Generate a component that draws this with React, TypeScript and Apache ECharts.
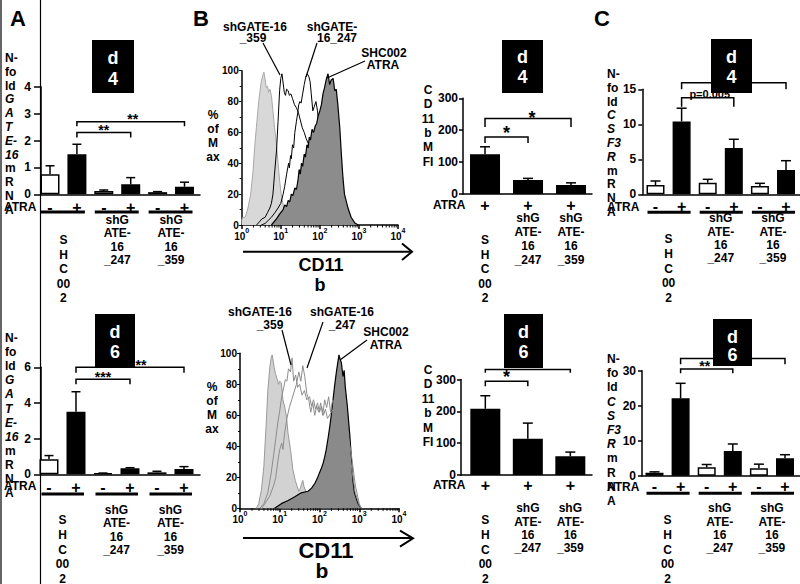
import React, { useEffect, useRef } from 'react';
import * as echarts from 'echarts';

const FF = '"Liberation Sans", Arial, Helvetica, sans-serif';
const font = (size: number, italic = false) => `${italic ? 'italic ' : ''}bold ${size}px ${FF}`;

// ---------------- categories / tick labels ----------------
const atraSix = ['-', '+', '-', '+', '-', '+'];
const atraThree = ['+', '+', '+'];
const groupSHC002 = ['S', 'H', 'C', '00', '2'];
const group247 = ['shG', 'ATE-', '16', '_247'];
const group359 = ['shG', 'ATE-', '16', '_359'];
const yNameGate16 = ['N-', 'fo', 'ld', 'G', 'A', 'T', 'E-', '16', 'm', 'R', 'N', 'A'];
const yNameGate16Italic = [3, 4, 5, 6, 7];
const yNameCsf3r = ['N-', 'fo', 'ld', 'C', 'S', 'F3', 'R', 'm', 'R', 'N', 'A'];
const yNameCsf3rItalic = [3, 4, 5, 6];
const yNameMfi = ['C', 'D', '11', 'b', 'M', 'FI'];
const yNameHist = ['%', 'of', 'M', 'ax'];
const histDecades = [0, 1, 2, 3];
const logMinorOffsets = [0.301, 0.477, 0.602, 0.699, 0.778, 0.845, 0.903, 0.954];

// ---------------- bar values (mean, mean + SD) ----------------
const gate16D4 = [0.75, 1.49, 0.12, 0.37, 0.08, 0.28];
const gate16D4Top = [1.06, 1.86, 0.16, 0.62, 0.1, 0.45];
const gate16D6 = [0.84, 3.51, 0.06, 0.34, 0.11, 0.3];
const gate16D6Top = [1.05, 4.63, 0.07, 0.37, 0.17, 0.43];
const mfiD4 = [125, 44, 28];
const mfiD4Top = [148, 49, 35];
const mfiD6 = [208, 114, 59];
const mfiD6Top = [249, 163, 72];
const csf3rD4 = [1.33, 10.4, 1.66, 6.6, 1.19, 3.47];
const csf3rD4Top = [1.9, 12.3, 2.14, 7.86, 1.57, 4.8];
const csf3rD6 = [0.86, 22.1, 2.4, 7.06, 2.1, 4.97];
const csf3rD6Top = [1.1, 26.4, 3.2, 9.06, 3.3, 6.0];

// ---------------- histograms: [log10(CD11b), % of max] ----------------
const histD4Control = [[0, 3], [0.03, 5], [0.09, 5], [0.16, 11], [0.23, 20], [0.29, 35], [0.33, 50], [0.375, 63], [0.435, 80], [0.5, 93], [0.54, 97], [0.57, 99], [0.6, 94], [0.63, 89], [0.66, 90], [0.69, 86], [0.72, 88], [0.76, 84], [0.8, 74], [0.84, 63], [0.88, 55], [0.91, 46], [0.97, 29], [1.01, 20], [1.06, 13], [1.1, 7], [1.19, 3], [1.27, 1], [1.35, 0]];
const histD4Sh359 = [[0.38, 0], [0.45, 2], [0.52, 4], [0.6, 5], [0.66, 8], [0.72, 11], [0.76, 14], [0.8, 20], [0.84, 33], [0.89, 48], [0.93, 67], [0.97, 87], [1.0, 95], [1.03, 98], [1.06, 92], [1.09, 86], [1.12, 84], [1.15, 88], [1.19, 87], [1.22, 84], [1.26, 85], [1.3, 82], [1.35, 78], [1.4, 76], [1.45, 73], [1.5, 68], [1.55, 63], [1.6, 60], [1.65, 56], [1.7, 53], [1.76, 50], [1.82, 48], [1.9, 43], [2.0, 35], [2.1, 25], [2.2, 16], [2.3, 9], [2.4, 4], [2.5, 1], [2.6, 0]];
const histD4Sh247 = [[0.5, 0], [0.6, 1], [0.68, 3], [0.76, 5], [0.85, 8], [0.93, 11], [1.0, 14], [1.06, 20], [1.1, 25], [1.15, 33], [1.2, 40], [1.22, 37], [1.25, 45], [1.27, 43], [1.3, 52], [1.33, 50], [1.36, 60], [1.4, 67], [1.43, 72], [1.46, 78], [1.49, 80], [1.52, 79], [1.56, 85], [1.6, 91], [1.64, 96], [1.68, 98], [1.72, 96], [1.75, 93], [1.78, 85], [1.82, 74], [1.86, 77], [1.9, 80], [1.94, 74], [1.97, 66], [2.0, 60], [2.1, 50], [2.25, 35], [2.4, 20], [2.55, 8], [2.7, 2], [2.8, 0]];
const histD4Shc002 = [[0.76, 0], [0.89, 4], [0.97, 7], [1.06, 10], [1.1, 13], [1.15, 12], [1.19, 16], [1.23, 15], [1.27, 20], [1.31, 19], [1.36, 24], [1.4, 23], [1.44, 29], [1.47, 36], [1.5, 33], [1.53, 40], [1.56, 38], [1.6, 46], [1.63, 44], [1.67, 52], [1.7, 50], [1.73, 57], [1.76, 55], [1.8, 62], [1.84, 60], [1.88, 64], [1.92, 66], [1.96, 71], [2.0, 74], [2.04, 78], [2.08, 85], [2.12, 89], [2.17, 95], [2.21, 98], [2.25, 91], [2.29, 94], [2.34, 95], [2.38, 87], [2.42, 88], [2.46, 78], [2.51, 63], [2.55, 46], [2.59, 31], [2.63, 20], [2.68, 15], [2.72, 11], [2.8, 5], [2.89, 1.5], [2.98, 0]];

const histD6Control = [[0.41, 0], [0.47, 3], [0.54, 12], [0.6, 27], [0.66, 55], [0.7, 76], [0.75, 91], [0.79, 98], [0.81, 99], [0.86, 91], [0.89, 87], [0.94, 83], [0.97, 80], [1.0, 82], [1.04, 81], [1.08, 70], [1.12, 66], [1.17, 59], [1.21, 48], [1.27, 38], [1.33, 25], [1.39, 18], [1.44, 14], [1.48, 11], [1.52, 13], [1.55, 16], [1.58, 18], [1.61, 14], [1.67, 10], [1.71, 5], [1.78, 2], [1.84, 0]];
const histD6Sh359 = [[0.5, 0], [0.6, 3], [0.7, 10], [0.78, 22], [0.84, 33], [0.9, 45], [0.95, 55], [1.0, 63], [1.05, 72], [1.1, 78], [1.14, 83], [1.18, 82], [1.22, 90], [1.27, 88], [1.31, 97], [1.35, 82], [1.4, 86], [1.45, 78], [1.5, 80], [1.56, 73], [1.62, 76], [1.68, 70], [1.75, 72], [1.8, 66], [1.85, 70], [1.9, 64], [1.95, 68], [2.0, 62], [2.05, 66], [2.1, 60], [2.15, 64], [2.2, 58], [2.3, 62], [2.4, 66], [2.5, 62], [2.6, 58], [2.7, 50], [2.8, 35], [2.9, 15], [3.0, 3], [3.05, 0]];
const histD6Sh247 = [[0.55, 0], [0.65, 4], [0.75, 8], [0.85, 15], [0.9, 20], [0.95, 30], [1.0, 38], [1.05, 42], [1.08, 38], [1.12, 48], [1.18, 58], [1.24, 65], [1.3, 70], [1.36, 75], [1.42, 80], [1.48, 88], [1.53, 82], [1.58, 92], [1.63, 85], [1.68, 74], [1.73, 70], [1.78, 62], [1.83, 68], [1.88, 60], [1.93, 66], [1.98, 62], [2.03, 68], [2.08, 60], [2.13, 70], [2.18, 65], [2.23, 72], [2.28, 62], [2.33, 70], [2.4, 66], [2.5, 60], [2.6, 55], [2.7, 45], [2.8, 28], [2.9, 10], [3.0, 2], [3.05, 0]];
const histD6Shc002 = [[0.87, 0], [1.04, 3], [1.21, 5], [1.38, 7.5], [1.54, 10], [1.71, 11], [1.8, 13], [1.88, 16], [1.94, 19], [2.0, 23], [2.05, 26], [2.09, 29], [2.13, 33], [2.17, 38], [2.22, 46], [2.26, 53], [2.3, 61], [2.34, 70], [2.38, 79], [2.42, 87], [2.46, 94], [2.49, 99], [2.52, 96], [2.55, 94], [2.59, 85], [2.62, 89], [2.65, 78], [2.7, 66], [2.76, 48], [2.8, 33], [2.84, 18], [2.88, 10], [2.97, 3], [3.05, 0]];

// ---------------- layout ----------------
const barPanels: any[] = [
  { // A, day 4
    left: 41, top: 86.7, width: 159, height: 107.6, xMin: -0.335, xMax: 5.576, yMax: 4, yInterval: 1,
    tickLen: 7, labelMargin: 10, barWidth: 19, capHalf: 4.5,
    means: gate16D4, tops: gate16D4Top, signs: atraSix, signDy: 12.7, ulDy: 17.7, ulL: 9, ulR: 8,
    groups: [
      { from: 0, to: 1, lines: groupSHC002, dy: 45.7, lh: 14.5, ul: true },
      { from: 2, to: 3, lines: group247, dy: 25.7, lh: 13.3, ul: true },
      { from: 4, to: 5, lines: group359, dy: 25.7, lh: 13.3, ul: true },
    ],
    brackets: [
      { from: 1, to: 3, y: 2.3, tick: 5, label: '**', dx: 0, dy: -2.5, fs: 14 },
      { from: 1, to: 5, y: 2.7, tick: 4.5, label: '**', dx: 2, dy: -2.5, fs: 14 },
    ],
  },
  { // A, day 6
    left: 41, top: 367.3, width: 159, height: 107, xMin: -0.296, xMax: 5.593, yMax: 6, yInterval: 2,
    tickLen: 7, labelMargin: 10, barWidth: 19, capHalf: 4.5,
    means: gate16D6, tops: gate16D6Top, signs: atraSix, signDy: 12.7, ulDy: 19.7, ulL: 7.5, ulR: 8,
    groups: [
      { from: 0, to: 1, lines: groupSHC002, dy: 45.7, lh: 14.75, ul: true },
      { from: 2, to: 3, lines: group247, dy: 35.7, lh: 13.3, ul: true },
      { from: 4, to: 5, lines: group359, dy: 35.7, lh: 13.3, ul: true },
    ],
    brackets: [
      { from: 1, to: 3, y: 5.33, tick: 5, label: '***', dx: 0, dy: -2.5, fs: 14 },
      { from: 1, to: 5, y: 6.0, tick: 5.4, label: '**', dx: 11, dy: -2.5, fs: 14 },
    ],
  },
  { // B, day 4 MFI
    left: 463, top: 98.3, width: 129, height: 95.7, xMin: -0.512, xMax: 2.488, yMax: 300, yInterval: 100,
    tickLen: 4, labelMargin: 5, barWidth: 30, capHalf: 5,
    means: mfiD4, tops: mfiD4Top, signs: atraThree, signDy: 11, ulDy: 0, ulL: 0, ulR: 0,
    groups: [
      { from: 0, to: 0, lines: groupSHC002, dy: 46, lh: 14.5, ul: false },
      { from: 1, to: 1, lines: group247, dy: 24, lh: 14, ul: false },
      { from: 2, to: 2, lines: group359, dy: 24, lh: 14, ul: false },
    ],
    brackets: [
      { from: 0, to: 1, y: 179, tick: 6, label: '*', dx: 0, dy: -4.3, fs: 18 },
      { from: 0, to: 2, y: 236.6, tick: 8.4, label: '*', dx: 4, dy: -1, fs: 18 },
    ],
  },
  { // B, day 6 MFI
    left: 461, top: 379.5, width: 131, height: 95.5, xMin: -0.572, xMax: 2.51, yMax: 300, yInterval: 100,
    tickLen: 4, labelMargin: 5, barWidth: 30, capHalf: 5,
    means: mfiD6, tops: mfiD6Top, signs: atraThree, signDy: 10, ulDy: 0, ulL: 0, ulR: 0,
    groups: [
      { from: 0, to: 0, lines: groupSHC002, dy: 45, lh: 14.8, ul: false },
      { from: 1, to: 1, lines: group247, dy: 33.3, lh: 13.3, ul: false },
      { from: 2, to: 2, lines: group359, dy: 33.3, lh: 13.3, ul: false },
    ],
    brackets: [
      { from: 0, to: 1, y: 294.6, tick: 5, label: '*', dx: 0, dy: -4.3, fs: 18 },
      { from: 0, to: 2, y: 331.5, tick: 3.3, label: '', dx: 0, dy: 0, fs: 18 },
    ],
  },
  { // C, day 4
    left: 642.3, top: 89.3, width: 157.7, height: 105, xMin: -0.506, xMax: 5.536, yMax: 15, yInterval: 5,
    tickLen: 4, labelMargin: 6, barWidth: 18, capHalf: 5,
    means: csf3rD4, tops: csf3rD4Top, signs: atraSix, signDy: 11.7, ulDy: 18, ulL: 8, ulR: 9,
    groups: [
      { from: 0, to: 1, lines: groupSHC002, dy: 45, lh: 14.7, ul: true },
      { from: 2, to: 3, lines: group247, dy: 24, lh: 13.3, ul: true },
      { from: 4, to: 5, lines: group359, dy: 24, lh: 13.3, ul: true },
    ],
    brackets: [
      { from: 1, to: 3, y: 13.8, tick: 9, label: 'p=0.005', dx: 2, dy: -4, fs: 11 },
      { from: 1, to: 5, y: 15.94, tick: 6.6, label: '', dx: 0, dy: 0, fs: 11 },
    ],
  },
  { // C, day 6
    left: 642, top: 370.7, width: 158, height: 105, xMin: -0.479, xMax: 5.575, yMax: 30, yInterval: 10,
    tickLen: 4, labelMargin: 6, barWidth: 18, capHalf: 5,
    means: csf3rD6, tops: csf3rD6Top, signs: atraSix, signDy: 11, ulDy: 17.6, ulL: 8, ulR: 9,
    groups: [
      { from: 0, to: 1, lines: groupSHC002, dy: 44.3, lh: 14.8, ul: true },
      { from: 2, to: 3, lines: group247, dy: 32.6, lh: 13.3, ul: true },
      { from: 4, to: 5, lines: group359, dy: 32.6, lh: 13.3, ul: true },
    ],
    brackets: [
      { from: 1, to: 3, y: 30.5, tick: 4.3, label: '**', dx: -2, dy: -2.5, fs: 14 },
      { from: 1, to: 5, y: 33.5, tick: 5.7, label: '', dx: 0, dy: 0, fs: 14 },
    ],
  },
];

const histPanels: any[] = [
  {
    left: 241.7, top: 70.7, width: 156.3, height: 154.3,
    curves: [
      { data: histD4Control, line: '#a8a8a8', fill: '#d8d8d8', width: 1, z: 2 },
      { data: histD4Sh359, line: '#000', fill: null, width: 1, z: 3 },
      { data: histD4Sh247, line: '#000', fill: null, width: 1, z: 3 },
      { data: histD4Shc002, line: '#000', fill: '#8c8c8c', width: 1.2, z: 4 },
    ],
  },
  {
    left: 240, top: 353.3, width: 159, height: 155,
    curves: [
      { data: histD6Control, line: '#999', fill: '#d2d2d2', width: 1, z: 2 },
      { data: histD6Shc002, line: '#000', fill: '#8a8a8a', width: 1.2, z: 3 },
      { data: histD6Sh359, line: '#8c8c8c', fill: null, width: 1, z: 4 },
      { data: histD6Sh247, line: '#8c8c8c', fill: null, width: 1, z: 4 },
    ],
  },
];

const txt = (text: string, x: number, y: number, size: number, align = 'center', italic = false, color = '#000') => ({
  type: 'text', x, y,
  style: { text, font: font(size, italic), fill: color, textAlign: align, textVerticalAlign: 'middle' },
});
const g = (el: any) => ({ ...el, z: 100, silent: true });
const stack = (lines: string[], x: number, y0: number, lh: number, align: string, italicIdx: number[] = [], size = 12) =>
  lines.map((t, j) => g(txt(t, x, y0 + j * lh, size, align, italicIdx.includes(j))));
const gline = (x1: number, y1: number, x2: number, y2: number, w = 1.2) =>
  g({ type: 'line', shape: { x1, y1, x2, y2 }, style: { stroke: '#000', lineWidth: w } });
const dayBox = (x: number, y: number, w: number, h: number, day: string, dY: number, nY: number) => [
  g({ type: 'rect', shape: { x, y, width: w, height: h }, style: { fill: '#000' } }),
  g(txt('d', x + w / 2, dY, 18, 'center', false, '#fff')),
  g(txt(day, x + w / 2, nY, 18, 'center', false, '#fff')),
];

const axisBlack = { color: '#000', width: 1.5 };

function buildOption() {
  const grid: any[] = [];
  const xAxis: any[] = [];
  const yAxis: any[] = [];
  const series: any[] = [];

  barPanels.forEach((c, i) => {
    grid.push({ left: c.left, top: c.top, width: c.width, height: c.height, containLabel: false, outerBoundsMode: 'none' });
    xAxis.push({
      type: 'value', gridIndex: i, min: c.xMin, max: c.xMax,
      axisLine: { show: true, onZero: false, lineStyle: axisBlack },
      axisTick: { show: false }, axisLabel: { show: false }, splitLine: { show: false },
    });
    yAxis.push({
      type: 'value', gridIndex: i, min: 0, max: c.yMax, interval: c.yInterval,
      axisLine: { show: true, onZero: false, lineStyle: axisBlack },
      axisTick: { show: true, length: c.tickLen, lineStyle: axisBlack },
      axisLabel: { fontFamily: FF, fontWeight: 'bold', fontSize: 12, color: '#000', margin: c.labelMargin, showMinLabel: true, showMaxLabel: true },
      splitLine: { show: false },
    });
    series.push({
      type: 'bar', xAxisIndex: i, yAxisIndex: i, barWidth: c.barWidth, silent: true, z: 2,
      data: c.means.map((v: number, k: number) => ({
        value: [k, v],
        itemStyle: { color: c.signs[k] === '-' ? '#ffffff' : '#000000', borderColor: '#000', borderWidth: 1.5 },
      })),
    });
    series.push({
      type: 'custom', xAxisIndex: i, yAxisIndex: i, silent: true, clip: false, z: 3,
      data: c.means.map((v: number, k: number) => [k, v, c.tops[k]]),
      renderItem: (_p: any, api: any) => {
        const b = api.coord([api.value(0), api.value(1)]);
        const t = api.coord([api.value(0), api.value(2)]);
        return {
          type: 'group', children: [
            { type: 'line', shape: { x1: b[0], y1: b[1], x2: t[0], y2: t[1] }, style: { stroke: '#000', lineWidth: 1.5 } },
            { type: 'line', shape: { x1: t[0] - c.capHalf, y1: t[1], x2: t[0] + c.capHalf, y2: t[1] }, style: { stroke: '#000', lineWidth: 1.5 } },
          ],
        };
      },
    });
    series.push({
      type: 'custom', xAxisIndex: i, yAxisIndex: i, silent: true, clip: false, z: 4,
      data: c.signs.map((_s: string, k: number) => [k, 0, k]),
      renderItem: (_p: any, api: any) => {
        const p = api.coord([api.value(0), 0]);
        return txt(c.signs[api.value(2)], p[0], p[1] + c.signDy, 16, 'center');
      },
    });
    series.push({
      type: 'custom', xAxisIndex: i, yAxisIndex: i, silent: true, clip: false, z: 4,
      data: c.groups.map((gr: any, k: number) => [gr.from, 0, gr.to, k]),
      renderItem: (_p: any, api: any) => {
        const gr = c.groups[api.value(3)];
        const p0 = api.coord([api.value(0), 0]);
        const p1 = api.coord([api.value(2), 0]);
        const cx = (p0[0] + p1[0]) / 2;
        const children: any[] = [];
        if (gr.ul) {
          children.push({ type: 'line', shape: { x1: p0[0] - c.ulL, y1: p0[1] + c.ulDy, x2: p1[0] + c.ulR, y2: p0[1] + c.ulDy }, style: { stroke: '#000', lineWidth: 3 } });
        }
        gr.lines.forEach((t: string, j: number) => children.push(txt(t, cx, p0[1] + gr.dy + j * gr.lh, 12, 'center')));
        return { type: 'group', children };
      },
    });
    series.push({
      type: 'custom', xAxisIndex: i, yAxisIndex: i, silent: true, clip: false, z: 5,
      data: c.brackets.map((br: any, k: number) => [br.from, br.y, br.to, k]),
      renderItem: (_p: any, api: any) => {
        const br = c.brackets[api.value(3)];
        const a = api.coord([api.value(0), api.value(1)]);
        const b = api.coord([api.value(2), api.value(1)]);
        const children: any[] = [
          { type: 'polyline', shape: { points: [[a[0], a[1] + br.tick], [a[0], a[1]], [b[0], b[1]], [b[0], b[1] + br.tick]] }, style: { stroke: '#000', lineWidth: 1.5, fill: 'none' } },
        ];
        if (br.label) children.push(txt(br.label, (a[0] + b[0]) / 2 + br.dx, a[1] + br.dy, br.fs, 'center'));
        return { type: 'group', children };
      },
    });
  });

  histPanels.forEach((h, j) => {
    const i = barPanels.length + j;
    grid.push({ left: h.left, top: h.top, width: h.width, height: h.height, containLabel: false, outerBoundsMode: 'none' });
    xAxis.push({
      type: 'value', gridIndex: i, min: 0, max: 4, interval: 1,
      axisLine: { show: true, onZero: false, lineStyle: axisBlack },
      axisTick: { show: true, length: 4, lineStyle: axisBlack },
      axisLabel: {
        margin: 2, showMinLabel: true, showMaxLabel: true,
        formatter: (v: number) => `{b|10}{s|${v}}`,
        rich: {
          b: { fontSize: 10, fontWeight: 'bold', fontFamily: FF, color: '#000', lineHeight: 14, verticalAlign: 'bottom' },
          s: { fontSize: 7, fontWeight: 'bold', fontFamily: FF, color: '#000', lineHeight: 8, verticalAlign: 'top' },
        },
      },
      splitLine: { show: false },
    });
    yAxis.push({
      type: 'value', gridIndex: i, min: 0, max: 100, interval: 20,
      axisLine: { show: true, onZero: false, lineStyle: axisBlack },
      axisTick: { show: true, length: 3, lineStyle: { color: '#000', width: 1 } },
      minorTick: { show: true, splitNumber: 2, length: 2, lineStyle: { color: '#000', width: 1 } },
      axisLabel: { fontFamily: FF, fontWeight: 'bold', fontSize: 10, color: '#000', margin: 3, showMinLabel: true, showMaxLabel: true },
      splitLine: { show: false },
    });
    h.curves.forEach((cv: any) => {
      series.push({
        type: 'line', xAxisIndex: i, yAxisIndex: i, data: cv.data, symbol: 'none', showSymbol: false, silent: true,
        z: cv.z, lineStyle: { color: cv.line, width: cv.width },
        areaStyle: cv.fill ? { color: cv.fill, opacity: 1 } : undefined,
      });
    });
    const minorTicks = histDecades.flatMap((d) => logMinorOffsets.map((o) => [d + o, 0]));
    series.push({
      type: 'custom', xAxisIndex: i, yAxisIndex: i, silent: true, clip: false, z: 6,
      data: minorTicks,
      renderItem: (_p: any, api: any) => {
        const p = api.coord([api.value(0), 0]);
        return { type: 'line', shape: { x1: p[0], y1: p[1], x2: p[0], y2: p[1] + 2.5 }, style: { stroke: '#000', lineWidth: 1 } };
      },
    });
  });

  const graphics: any[] = [
    // panel A frame
    gline(1, 0, 1, 584, 1.2),
    gline(40.5, 0, 40.5, 584, 1.2),
    // panel letters
    g(txt('A', 10, 18, 22, 'left')),
    g(txt('B', 193, 18, 22, 'left')),
    g(txt('C', 594, 18, 22, 'left')),
    // day boxes
    ...dayBox(92, 40, 42, 53, '4', 58, 79),
    ...dayBox(95, 314, 40, 53, '6', 332, 352),
    ...dayBox(502, 40, 41, 53, '4', 57, 77),
    ...dayBox(504, 314, 39, 54, '6', 332, 352),
    ...dayBox(711, 39, 41, 54, '4', 57, 77),
    ...dayBox(713, 319, 39, 47, '6', 337, 355),
    // y-axis names
    ...stack(yNameGate16, 5, 58, 13.8, 'left', yNameGate16Italic),
    ...stack(yNameGate16, 5, 338, 14.1, 'left', yNameGate16Italic),
    ...stack(yNameMfi, 428, 90, 14.3, 'center'),
    ...stack(yNameMfi, 428, 370, 14.4, 'center'),
    ...stack(yNameCsf3r, 607, 74, 13.8, 'left', yNameCsf3rItalic),
    ...stack(yNameCsf3r, 607, 359, 14.2, 'left', yNameCsf3rItalic),
    ...stack(yNameHist, 213, 115, 14, 'center'),
    ...stack(yNameHist, 212, 387, 14, 'center'),
    // ATRA row labels
    g(txt('ATRA', 4, 207, 12, 'left')),
    g(txt('ATRA', 4, 486, 12, 'left')),
    g(txt('ATRA', 433, 204.5, 12, 'left')),
    g(txt('ATRA', 433, 485, 12, 'left')),
    g(txt('ATRA', 607, 207, 12, 'left')),
    g(txt('ATRA', 607, 487, 12, 'left')),
    // histogram annotations (day 4)
    g(txt('shGATE-16', 255, 27, 12)),
    g(txt('_359', 253, 38, 12)),
    g(txt('shGATE-', 332, 27, 12)),
    g(txt('16_247', 337, 38, 12)),
    g(txt('SHC002', 384, 53, 12)),
    g(txt('ATRA', 383, 65, 12)),
    gline(263, 43, 280, 75),
    gline(317, 43, 306, 77),
    gline(365, 61, 327, 78),
    gline(243, 251.7, 410, 251.7, 2),
    g({ type: 'polyline', shape: { points: [[402, 243.5], [412, 251.7], [402, 260]] }, style: { stroke: '#000', lineWidth: 2, fill: 'none' } }),
    g(txt('CD11', 321, 265, 18)),
    g(txt('b', 320, 285, 18)),
    // histogram annotations (day 6)
    g(txt('shGATE-16', 260, 312, 12)),
    g(txt('_359', 270, 325, 12)),
    g(txt('shGATE-16', 342, 312, 12)),
    g(txt('_247', 342, 325, 12)),
    g(txt('SHC002', 386, 332, 12)),
    g(txt('ATRA', 386, 345, 12)),
    gline(282, 330, 291, 365),
    gline(323, 322, 307, 368),
    gline(367, 340, 340, 360),
    gline(243, 538, 411, 538, 2),
    g({ type: 'polyline', shape: { points: [[400, 530.7], [413, 538.3], [400, 546.7]] }, style: { stroke: '#000', lineWidth: 2, fill: 'none' } }),
    g(txt('CD11', 326, 550, 22)),
    g(txt('b', 322, 570, 21)),
  ];

  return {
    animation: false,
    backgroundColor: '#ffffff',
    grid, xAxis, yAxis, series,
    graphic: { elements: graphics },
  };
}

export default function App() {
  const ref = useRef<HTMLDivElement>(null);
  useEffect(() => {
    const chart = echarts.init(ref.current as HTMLDivElement, null, { renderer: 'svg' });
    chart.setOption(buildOption() as any);
    return () => chart.dispose();
  }, []);
  return <div ref={ref} style={{ position: 'fixed', left: 0, top: 0, width: 800, height: 584, background: '#fff' }} />;
}
